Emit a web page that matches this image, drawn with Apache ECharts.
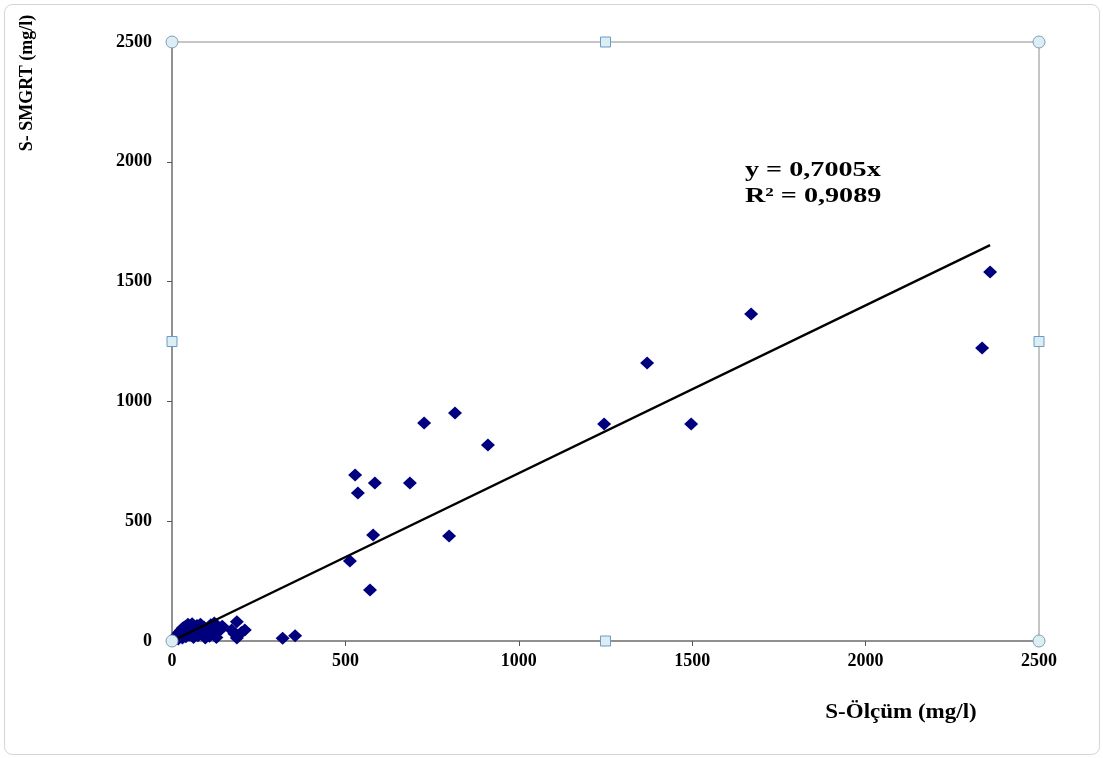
<!DOCTYPE html>
<html><head><meta charset="utf-8">
<script src="https://cdn.jsdelivr.net/npm/echarts@6/dist/echarts.min.js"></script>
<style>html,body{margin:0;padding:0;background:#fff}#c{width:1103px;height:758px}</style>
</head><body><div id="c"></div>
<script>
// Measured (x) vs SMGRT (y) sulphate values, mg/l
var measuredX = [2359, 2336, 1670, 1370, 1246, 1497, 911, 816, 727, 528, 536, 585, 686, 580, 799, 513, 571, 319, 355,
  8, 12, 15, 18, 20, 24, 26, 30, 32, 35, 38, 40, 44, 46, 50, 52, 55, 58, 62, 65, 68, 72, 75, 78, 82, 88, 92, 96, 100,
  108, 112, 118, 122, 128, 132, 138, 145, 172, 180, 187, 187, 200, 210];
var smgrtY = [1540, 1223, 1365, 1160, 906, 906, 818, 952, 910, 693, 618, 659, 659, 442, 438, 334, 213, 11, 22,
  5, 15, 25, 8, 35, 20, 45, 12, 55, 30, 60, 18, 48, 70, 25, 62, 40, 72, 15, 55, 35, 65, 22, 48, 70, 30, 58, 12, 40,
  20, 68, 35, 75, 15, 55, 45, 62, 46, 30, 80, 13, 35, 46];
var slope = 0.7005;
var rSquared = "0,9089";
var xTicks = [0, 500, 1000, 1500, 2000, 2500];
var yTicks = [0, 500, 1000, 1500, 2000, 2500];
var xTitle = "S-Ölçüm (mg/l)";
var yTitle = "S- SMGRT (mg/l)";

var points = measuredX.map(function (x, i) { return [x, smgrtY[i]]; });
var xMax = Math.max.apply(null, measuredX);
var trend = [[0, 0], [xMax, slope * xMax]];

var font = "'Liberation Serif', 'Times New Roman', serif";
var chart = echarts.init(document.getElementById('c'));
var axisCommon = {
  min: 0, max: 2500, interval: 500,
  splitLine: { show: false },
  axisLine: { onZero: false, lineStyle: { color: '#7f7f7f', width: 1.5 } },
  axisTick: { show: true, inside: false, length: 5, lineStyle: { color: '#555', width: 1 } },
  axisLabel: { color: '#000', fontFamily: font, fontWeight: 'bold', fontSize: 18 }
};
chart.setOption({
  animation: false,
  backgroundColor: '#fff',
  grid: { left: 172, top: 42, right: 64, bottom: 117, show: true, borderColor: '#8c8c8c', borderWidth: 1, backgroundColor: 'transparent' },
  xAxis: Object.assign({}, axisCommon, { type: 'value',
    axisLabel: Object.assign({}, axisCommon.axisLabel, { margin: 11, formatter: function (v) { return xTicks.indexOf(v) >= 0 ? String(v) : ''; } }) }),
  yAxis: Object.assign({}, axisCommon, { type: 'value',
    axisLabel: Object.assign({}, axisCommon.axisLabel, { margin: 20, formatter: function (v) { return yTicks.indexOf(v) >= 0 ? String(v) : ''; } }) }),
  series: [
    { type: 'scatter', data: points, symbol: 'diamond', symbolSize: [14, 13], itemStyle: { color: '#00007f', opacity: 1 }, z: 3 },
    { type: 'line', data: trend, symbol: 'none', lineStyle: { color: '#000', width: 2.4 }, z: 4 }
  ]
});

function px(p) { return chart.convertToPixel({ gridIndex: 0 }, p); }
var tl = px([0, 2500]), br = px([2500, 0]), mid = px([1250, 1250]);
var handleStyle = { fill: '#dcedf3', stroke: '#7f9fb5', lineWidth: 1 };
var handles = [];
[[tl[0], tl[1]], [br[0], tl[1]], [tl[0], br[1]], [br[0], br[1]]].forEach(function (c) {
  handles.push({ type: 'circle', shape: { cx: c[0], cy: c[1], r: 6 }, style: handleStyle, z: 100 });
});
[[mid[0], tl[1]], [mid[0], br[1]], [tl[0], mid[1]], [br[0], mid[1]]].forEach(function (c) {
  handles.push({ type: 'rect', shape: { x: c[0] - 5, y: c[1] - 5, width: 10, height: 10 }, style: { fill: '#dcedf3', stroke: '#6a9cc5', lineWidth: 1 }, z: 100 });
});
chart.setOption({
  graphic: [
    { type: 'rect', shape: { x: 4.5, y: 4.5, width: 1095, height: 750, r: 8 }, style: { fill: 'none', stroke: '#d4d4d4', lineWidth: 1 }, z: -1 },
    { type: 'text', x: 27, y: 83, rotation: Math.PI / 2, style: { text: yTitle, font: 'bold 18px ' + font, fill: '#000', align: 'center', verticalAlign: 'middle' } },
    { type: 'text', x: 901, y: 713, scaleX: 1.15, style: { text: xTitle, font: 'bold 20px ' + font, fill: '#000', align: 'center', verticalAlign: 'middle' } },
    { type: 'text', x: 745, y: 157, scaleX: 1.28, style: { text: 'y = 0,7005x\nR² = ' + rSquared, font: 'bold 22px ' + font, lineHeight: 26, fill: '#000', align: 'left', verticalAlign: 'top' } }
  ].concat(handles)
});
</script></body></html>
